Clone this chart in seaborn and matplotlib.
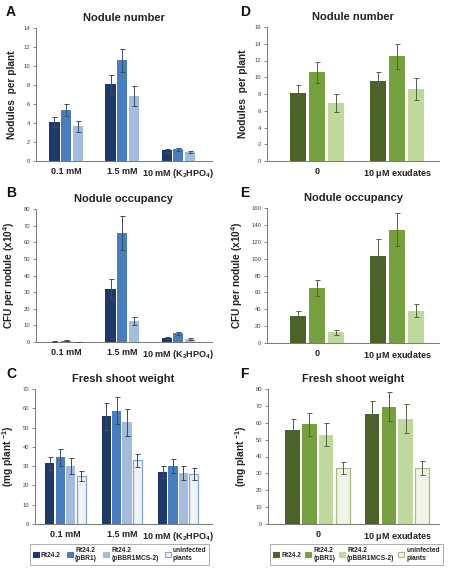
import numpy as np
import pandas as pd
import matplotlib
matplotlib.use("Agg")
import matplotlib.pyplot as plt
from matplotlib.patches import Patch
import seaborn as sns

sns.set_style("white")
plt.rcParams['font.family'] = ['Liberation Sans', 'DejaVu Sans']
plt.rcParams['mathtext.fontset'] = 'custom'
plt.rcParams['mathtext.rm'] = 'Liberation Sans'
plt.rcParams['mathtext.bf'] = 'Liberation Sans:bold'

# ---------------- data ----------------
cats_p = ["0.1 mM", "1.5 mM", "10 mM (K$_\\mathbf{2}$HPO$_\\mathbf{4}$)"]
cats_e = ["0", "10 $\\mathbf{\\mu}$M exudates"]
strains3 = ["Rt24.2", "Rt24.2 (pBR1)", "Rt24.2 (pBBR1MCS-2)"]
strains4 = strains3 + ["uninfected plants"]

# A: nodule number (phosphate)
a_mean = [[4.1, 8.1, 1.15], [5.35, 10.6, 1.25], [3.65, 6.85, 0.95]]
a_err = [[0.5, 1.0, 0.15], [0.65, 1.2, 0.15], [0.55, 1.05, 0.15]]
# B: nodule occupancy (phosphate)
b_mean = [[0.3, 32.0, 2.3], [0.8, 65.5, 5.3], [0.2, 12.5, 1.7]]
b_err = [[0.1, 6.0, 0.5], [0.2, 10.0, 0.8], [0.1, 2.5, 0.5]]
# C: fresh shoot weight (phosphate)
c_mean = [[31.5, 56.0, 27.0], [34.5, 58.8, 30.0], [30.0, 52.8, 26.5], [24.8, 33.0, 26.0]]
c_err = [[3.5, 7.0, 3.3], [4.2, 7.0, 3.5], [4.0, 7.0, 3.5], [2.7, 3.5, 3.0]]
# D: nodule number (exudates)
d_mean = [[8.1, 9.5], [10.6, 12.5], [6.9, 8.6]]
d_err = [[0.95, 1.15], [1.25, 1.5], [1.05, 1.3]]
# E: nodule occupancy (exudates)
e_mean = [[32.0, 103.0], [65.5, 134.5], [12.5, 38.5]]
e_err = [[6.0, 20.5], [9.5, 19.5], [3.0, 7.5]]
# F: fresh shoot weight (exudates)
f_mean = [[56.0, 65.0], [59.0, 69.5], [53.0, 62.5], [33.0, 33.3]]
f_err = [[6.5, 8.0], [7.0, 8.5], [7.0, 8.5], [3.5, 4.0]]

blues = ["#1f3a68", "#4a7dbd", "#a3bbdc", "#eef3fa"]
greens = ["#4b6329", "#76a03f", "#bfd89b", "#f0f4e6"]
blue_edge = "#8aa3c8"
green_edge = "#a9b98a"
blue_err = "#3a4a66"
green_err = "#55603f"

W, H = 454, 572
fig = plt.figure(figsize=(W / 100, H / 100), dpi=100)


def px_axes(left, right, top, bottom):
    return fig.add_axes([left / W, 1 - bottom / H, (right - left) / W, (bottom - top) / H])


def panel(box, cats, strains, means, errs, colors, edgecol, errcol, ylim, yticks,
          xlim, width, gap, title, ylabel, letter, letter_xy):
    ax = px_axes(*box)
    rows = []
    for s, vals in zip(strains, means):
        for c, v in zip(cats, vals):
            rows.append({"cat": c, "strain": s, "val": v})
    df = pd.DataFrame(rows)
    sns.barplot(data=df, x="cat", y="val", hue="strain", order=cats, hue_order=strains,
                palette=colors[:len(strains)], width=width, gap=gap, errorbar=None,
                linewidth=0, legend=False, ax=ax, saturation=1)
    bar_conts = list(ax.containers)
    for i, cont in enumerate(bar_conts):
        xs = [p.get_x() + p.get_width() / 2 for p in cont.patches]
        ys = [p.get_height() for p in cont.patches]
        if i == 3:
            for p in cont.patches:
                p.set_edgecolor(edgecol)
                p.set_linewidth(0.9)
        ax.errorbar(xs, ys, yerr=errs[i], fmt="none", ecolor=errcol, elinewidth=0.7,
                    capsize=1.8, capthick=0.7, zorder=5)
    ax.set_xlim(*xlim)
    ax.set_ylim(*ylim)
    ax.set_yticks(yticks)
    ax.set_yticklabels([str(t) for t in yticks], fontsize=4.2, color="#444444")
    ax.set_xticks(range(len(cats)))
    ax.set_xticklabels(cats, fontsize=6.5, fontweight="bold", color="#222222")
    ax.set_xticks([k + 0.5 for k in range(-1, len(cats))], minor=True)
    ax.tick_params(axis="x", which="major", length=0, pad=4)
    ax.tick_params(axis="x", which="minor", length=2, width=0.6, color="#777777")
    ax.tick_params(axis="y", length=2, width=0.6, color="#777777", pad=2, left=True)
    ax.set_xlabel("")
    ax.set_ylabel(ylabel, fontsize=7.3, fontweight="bold", color="#222222", labelpad=5)
    for sp in ["top", "right"]:
        ax.spines[sp].set_visible(False)
    for sp in ["left", "bottom"]:
        ax.spines[sp].set_color("#777777")
        ax.spines[sp].set_linewidth(0.7)
    ax.set_title(title, fontsize=8, fontweight="bold", color="#222222", pad=5)
    fig.text(letter_xy[0] / W, 1 - letter_xy[1] / H, letter, fontsize=10, fontweight="bold",
             ha="left", va="center", color="#111111")
    return ax


xl_p = (-0.54, 2.6)
xl_e = (-0.625, 1.525)

panel((36, 212, 28, 161), cats_p, strains3, a_mean, a_err, blues, blue_edge, blue_err,
      (0, 14), list(range(0, 15, 2)), xl_p, 0.63, 0.14, "Nodule number", "Nodules  per plant",
      "A", (6, 12))
panel((36, 212, 209, 342), cats_p, strains3, b_mean, b_err, blues, blue_edge, blue_err,
      (0, 80), list(range(0, 81, 10)), xl_p, 0.63, 0.14, "Nodule occupancy",
      "CFU per nodule (x10$^\\mathbf{4}$)", "B", (6, 193))
panel((35, 212, 389, 524), cats_p, strains4, c_mean, c_err, blues, blue_edge, blue_err,
      (0, 70), list(range(0, 71, 10)), xl_p, 0.74, 0.13, "Fresh shoot weight",
      "(mg plant $^\\mathbf{-1}$)", "C", (6, 374))
panel((267, 439, 27, 161), cats_e, strains3, d_mean, d_err, greens, green_edge, green_err,
      (0, 16), list(range(0, 17, 2)), xl_e, 0.72, 0.17, "Nodule number", "Nodules  per plant",
      "D", (240, 12))
panel((267, 439, 208, 343), cats_e, strains3, e_mean, e_err, greens, green_edge, green_err,
      (0, 160), list(range(0, 161, 20)), xl_e, 0.72, 0.17, "Nodule occupancy",
      "CFU per nodule (x10$^\\mathbf{4}$)", "E", (240, 193))
panel((268, 439, 389, 524), cats_e, strains4, f_mean, f_err, greens, green_edge, green_err,
      (0, 80), list(range(0, 81, 10)), xl_e, 0.84, 0.14, "Fresh shoot weight",
      "(mg plant $^\\mathbf{-1}$)", "F", (240, 374))

leg_labels = ["Rt24.2", "Rt24.2\n(pBR1)", "Rt24.2\n(pBBR1MCS-2)", "uninfected\nplants"]


def legend(colors, edgecol, x0, x1, y0, y1, colsp):
    handles = []
    for i, c in enumerate(colors):
        handles.append(Patch(facecolor=c, edgecolor=edgecol if i == 3 else c, linewidth=0.8))
    lg = fig.legend(handles, leg_labels, loc="center",
                    bbox_to_anchor=((x0 + x1) / 2 / W, 1 - (y0 + y1) / 2 / H),
                    ncol=4, fontsize=4.8, frameon=True, fancybox=False,
                    handlelength=0.9, handleheight=0.9, handletextpad=0.35,
                    columnspacing=colsp, borderpad=0.4, edgecolor="#999999")
    lg.get_frame().set_linewidth(0.7)
    for t in lg.get_texts():
        t.set_color("#222222")
        t.set_fontweight("bold")


legend(blues, blue_edge, 29, 210, 545, 564, 0.9)
legend(greens, green_edge, 273, 440, 545, 564, 0.55)

fig.savefig("out.png", dpi=100)
